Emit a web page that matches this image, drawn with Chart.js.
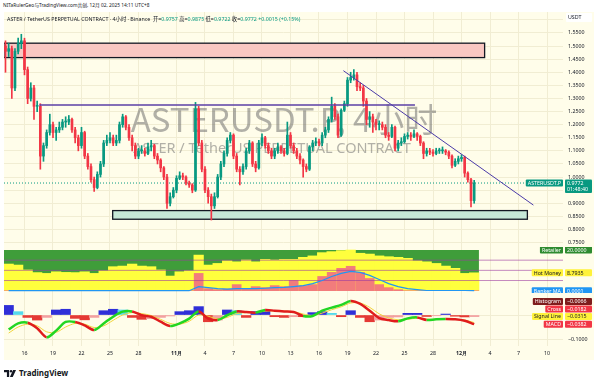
<!DOCTYPE html>
<html>
<head>
<meta charset="utf-8">
<script src="https://cdn.jsdelivr.net/npm/chart.js@4.4.0/dist/chart.umd.min.js"></script>
<style>
  body { margin: 0; width: 600px; height: 384px; background: #fff; position: relative; overflow: hidden;
         font-family: "Noto Sans", "Noto Sans CJK SC", sans-serif; color: #131722; }
  #stamp { position: absolute; left: 3px; top: 1px; font-size: 4.8px; white-space: nowrap; }
  #paper { position: absolute; left: 4px; top: 12px; width: 590px; height: 348px; background: #fffdea; }
  #legend { position: absolute; left: 7px; top: 15px; font-size: 5.3px; white-space: nowrap; }
  #legend b { font-weight: normal; color: #089981; }
  canvas { position: absolute; left: 4px; }
  #logo { position: absolute; left: 4px; top: 367px; font: bold 8px "Noto Sans", sans-serif; white-space: nowrap; }
  #logo svg { vertical-align: -1px; margin-right: 3px; }
</style>
</head>
<body>
<div id="stamp">NITaRulerGeo与TradingView.com共创, 12月 02, 2025 14:11 UTC+8</div>
<div id="paper"></div>
<canvas id="price" width="588" height="235" style="top:12px"></canvas>
<canvas id="flow" width="588" height="46" style="top:247px"></canvas>
<canvas id="macd" width="588" height="67" style="top:293px"></canvas>
<div id="legend">ASTER / TetherUS PERPETUAL CONTRACT · 4小时 · Binance &nbsp;开=<b>0.9757</b> 高=<b>0.9875</b> 低=<b>0.9722</b> 收=<b>0.9772</b> <b>+0.0015 (+0.15%)</b></div>
<div id="logo"><svg width="12" height="7" viewBox="0 0 14 8"><path d="M0 0h6v8H3.4V2.6H0z" fill="#131722"/><circle cx="8.2" cy="1.4" r="1.4" fill="#131722"/><path d="M10.6 0H14L10.2 8H6.9z" fill="#131722"/></svg>TradingView</div>

<script>
// ---------- data (8h candles from Oct 14 00:00) ----------
const OPEN = [1.50,1.48,1.49,1.34,1.48,1.51,1.52,1.41,1.30,1.34,
  1.27,1.27,1.08,1.12,1.17,1.20,1.17,1.18,1.19,1.21,
  1.21,1.22,1.18,1.15,1.12,1.17,1.08,1.04,0.99,0.96,
  1.01,1.05,1.13,1.14,1.15,1.13,1.14,1.20,1.23,1.19,
  1.15,1.12,1.08,1.10,1.10,1.09,1.115,1.12,1.08,1.065,
  1.035,1.00,0.90,0.925,0.95,0.995,1.005,1.00,0.977,0.97,
  0.95,1.26,1.13,1.03,0.95,0.925,0.89,0.925,1.00,1.05,
  1.09,1.14,1.16,1.08,1.03,1.02,1.04,1.10,1.13,1.05,
  1.035,1.13,1.15,1.12,1.10,1.08,1.10,1.115,1.10,1.09,
  1.16,1.12,1.10,1.08,1.065,1.04,1.03,1.115,1.13,1.135,
  1.13,1.16,1.18,1.22,1.27,1.23,1.16,1.255,1.28,1.37,
  1.38,1.39,1.345,1.34,1.29,1.22,1.23,1.21,1.20,1.20,
  1.19,1.16,1.155,1.19,1.11,1.13,1.135,1.155,1.16,1.155,
  1.165,1.155,1.13,1.09,1.10,1.095,1.09,1.10,1.10,1.10,
  1.095,1.08,1.045,1.06,1.07,1.075,1.015,0.99,0.91];
const CLOSE = [1.48,1.49,1.34,1.48,1.51,1.52,1.41,1.30,1.34,1.27,
  1.27,1.08,1.12,1.17,1.20,1.17,1.18,1.19,1.21,1.21,
  1.22,1.18,1.15,1.12,1.17,1.08,1.04,0.99,0.96,1.01,
  1.05,1.13,1.14,1.15,1.13,1.14,1.20,1.23,1.19,1.15,
  1.12,1.08,1.10,1.10,1.09,1.115,1.12,1.08,1.065,1.035,
  1.00,0.90,0.925,0.95,0.995,1.005,1.00,0.977,0.97,0.95,
  1.26,1.13,1.03,0.95,0.925,0.89,0.925,1.00,1.05,1.09,
  1.14,1.16,1.08,1.03,1.02,1.04,1.10,1.13,1.05,1.035,
  1.13,1.15,1.12,1.10,1.08,1.10,1.115,1.10,1.09,1.16,
  1.12,1.10,1.08,1.065,1.04,1.03,1.115,1.13,1.135,1.13,
  1.16,1.18,1.22,1.27,1.23,1.16,1.255,1.28,1.37,1.38,
  1.39,1.345,1.34,1.29,1.22,1.23,1.21,1.20,1.20,1.19,
  1.16,1.155,1.19,1.11,1.13,1.135,1.155,1.16,1.155,1.165,
  1.155,1.13,1.09,1.10,1.095,1.09,1.10,1.10,1.10,1.095,
  1.08,1.045,1.06,1.07,1.075,1.015,0.99,0.91,0.9772];
const HIGH = [1.52,1.51,1.50,1.49,1.53,1.545,1.53,1.42,1.36,1.35,
  1.29,1.28,1.13,1.18,1.24,1.21,1.19,1.21,1.22,1.23,
  1.235,1.225,1.19,1.16,1.19,1.175,1.09,1.05,1.00,1.02,
  1.06,1.14,1.16,1.17,1.16,1.16,1.21,1.24,1.235,1.20,
  1.16,1.13,1.11,1.12,1.11,1.13,1.14,1.125,1.09,1.07,
  1.04,1.01,0.94,0.96,1.005,1.02,1.015,1.005,0.985,0.975,
  1.285,1.27,1.14,1.04,0.96,0.935,0.94,1.01,1.06,1.10,
  1.15,1.17,1.165,1.09,1.04,1.05,1.11,1.14,1.135,1.06,
  1.14,1.165,1.155,1.13,1.11,1.11,1.13,1.12,1.11,1.21,
  1.17,1.13,1.11,1.09,1.07,1.05,1.12,1.14,1.15,1.145,
  1.17,1.19,1.23,1.305,1.28,1.24,1.26,1.29,1.38,1.40,
  1.41,1.40,1.36,1.35,1.30,1.25,1.24,1.22,1.215,1.21,
  1.20,1.17,1.20,1.195,1.14,1.15,1.165,1.17,1.17,1.18,
  1.17,1.16,1.135,1.11,1.11,1.105,1.11,1.11,1.115,1.105,
  1.10,1.085,1.07,1.08,1.085,1.08,1.02,0.995,0.9875];
const LOW = [1.40,1.46,1.30,1.33,1.47,1.49,1.39,1.28,1.29,1.22,
  1.25,1.03,1.06,1.11,1.16,1.15,1.14,1.17,1.18,1.19,
  1.20,1.17,1.13,1.10,1.11,1.07,1.03,0.98,0.945,0.955,
  1.00,1.04,1.12,1.13,1.12,1.12,1.13,1.19,1.18,1.14,
  1.10,1.07,1.07,1.09,1.08,1.085,1.10,1.07,1.05,1.02,
  0.99,0.88,0.89,0.92,0.94,0.99,0.99,0.97,0.96,0.94,
  0.945,1.12,1.02,0.94,0.90,0.836,0.88,0.92,0.99,1.04,
  1.08,1.13,1.07,1.02,0.97,1.01,1.03,1.09,1.04,1.02,
  1.03,1.12,1.11,1.09,1.07,1.07,1.09,1.09,1.08,1.085,
  1.11,1.09,1.07,1.05,1.00,1.02,1.025,1.10,1.12,1.12,
  1.12,1.15,1.17,1.21,1.22,1.15,1.155,1.25,1.27,1.36,
  1.37,1.33,1.33,1.27,1.20,1.19,1.17,1.18,1.18,1.18,
  1.15,1.14,1.15,1.10,1.10,1.12,1.13,1.145,1.14,1.15,
  1.14,1.12,1.07,1.08,1.085,1.08,1.085,1.09,1.09,1.085,
  1.07,1.035,1.04,1.05,1.06,1.00,0.98,0.886,0.90];

// one value per day (Oct 14 .. Dec 2)
const HOT_MONEY = [13.1,12.6,10.2,8.9,8.5,9.3,9.0,8.9,9.3,8.5,
  9.8,11.8,12.1,13.1,12.1,11.8,10.2,7.2,9.3,9.8,
  17.5,12.6,13.4,14.7,14.2,15.1,14.2,15.4,15.1,15.4,
  15.4,16.4,17.1,18.7,19.2,19.7,20,18.4,18.0,17.1,
  16.7,16.4,15.9,14.7,14.2,13.4,12.1,11.0,8.5,8.7935];
const BANKER = [0,0,0,0,0,0,0,0,0,0,
  0,0,0,0,0,0,0,0,0,0,
  8.5,1,0.5,0.8,3,0.8,2,1.5,2.5,2,
  5,2.5,3,7,9,11,12,9,6,3,
  1.5,0.5,0,0,0,0,0,0,0,0];
const BANKER_MA = [0,0,0,0,0,0,0,0,0,0,
  0,0,0,0,0,0,0,0,0,0,
  2,1.5,1,0.8,1,1,1,1.2,1.5,1.6,
  2,2.5,3.5,5,7,8.5,9.5,9,7.5,5.5,
  3.5,2,1,0.5,0.1,0.1,0.1,0.1,0.1,0.0001];
const RETAILER = 20;
const FLOW_LEVELS = [15, 10, 5];

const MACD = [-0.060,-0.035,-0.032,-0.055,-0.093,-0.065,-0.029,-0.029,-0.043,-0.0625,
  -0.035,-0.007,0.014,0.015,-0.001,-0.007,-0.028,-0.046,-0.035,-0.015,
  0.015,-0.015,-0.021,-0.001,0.015,0.0125,0.01,0.021,0.018,0.015,
  0.0125,-0.004,-0.004,0.018,0.031,0.042,0.058,0.046,0.018,-0.0125,
  -0.021,-0.026,-0.014,-0.01,-0.021,-0.018,-0.017,-0.018,-0.024,-0.0382];
const SIGNAL = [-0.075,-0.05,-0.038,-0.045,-0.07,-0.072,-0.05,-0.035,-0.038,-0.052,
  -0.045,-0.022,0.0,0.01,0.006,-0.002,-0.018,-0.035,-0.038,-0.026,
  0.0,-0.005,-0.016,-0.01,0.006,0.01,0.01,0.016,0.017,0.016,
  0.014,0.004,-0.002,0.008,0.022,0.034,0.05,0.05,0.032,0.005,
  -0.012,-0.02,-0.018,-0.013,-0.017,-0.018,-0.017,-0.018,-0.021,-0.0315];
const HIST = [0.04,0.014,-0.01,-0.021,-0.01,0.021,0.024,-0.014,-0.02,-0.01,
  0.018,0.024,0.021,-0.01,-0.018,-0.015,-0.01,-0.004,0.014,0.018,
  0.035,-0.028,-0.021,0.021,0.018,-0.01,0.014,0.018,-0.007,-0.01,
  -0.007,-0.007,0.01,0.014,0.007,-0.007,0.018,-0.01,-0.028,-0.021,
  -0.01,-0.008,0.007,0.007,-0.006,-0.003,0.004,-0.005,-0.008,-0.0066];
const CROSS_LAST = -0.0182;

// axes: x in 8h-candle units from Oct 14 00:00
const TIME_TICKS = [6,15,24,33,42,54,63,72,81,90,99,108,117,126,135,144,153,162,171];
const TIME_LABELS = ['16','19','22','25','28','11月','4','7','10','13','16','19','22','25','28','12月','4','7','10'];
const PRICE_TICKS = [0.75,0.80,0.85,0.90,0.95,1.00,1.05,1.10,1.15,1.20,1.25,1.30,1.35,1.40,1.45,1.50,1.55,1.60];
const MACD_TICKS = [-0.1, 0];

// drawings
const RESIST = { x0: -0.5, x1: 151.3, top: 1.511, bottom: 1.456 };
const SUPPORT = { x0: 33.85, x1: 164.8, top: 0.872, bottom: 0.839 };
const HLINE = { x0: 10.7, x1: 129.3, y: 1.275 };
const TREND = { x0: 106.7, y0: 1.406, x1: 166.7, y1: 0.893 };
const WATERMARK = 'ASTERUSDT.P, 4小时';
const SUBTITLE = 'ASTER / TetherUS PERPETUAL CONTRACT';
const LAST_PRICE = CLOSE[CLOSE.length - 1];
const COUNTDOWN = '01:48:40';

// ---------- look ----------
const X_MIN = -0.47, X_MAX = 176.05;
const FONT = '"Noto Sans", sans-serif';
const GRID = '#f1edd3';
const UP = '#089981', DOWN = '#f23645';

function timeScale(labels) {
  return {
    type: 'linear', min: X_MIN, max: X_MAX, offset: false,
    grid: { color: GRID, drawTicks: false, offset: false },
    border: { display: false },
    ticks: {
      display: labels, padding: 4, color: '#131722', maxRotation: 0, autoSkip: false,
      font: c => ({ size: 5.3, family: FONT,
        weight: (TIME_LABELS[TIME_TICKS.indexOf(c.tick && c.tick.value)] || '').includes('月') ? 'bold' : 'normal' }),
      callback: v => TIME_LABELS[TIME_TICKS.indexOf(v)] ?? ''
    },
    afterBuildTicks: s => { s.ticks = TIME_TICKS.map(v => ({ value: v })); },
    afterFit: s => { s.height = labels ? 14 : 0; s.paddingLeft = 0; s.paddingRight = 0; }
  };
}

function sideScale(min, max, ticks, fmt, grid) {
  return {
    position: 'right', min, max,
    grid: { display: grid, color: GRID, drawTicks: false },
    border: { display: false },
    ticks: { display: !!ticks, color: '#131722', padding: 5, font: { size: 5.3, family: FONT }, callback: fmt },
    afterBuildTicks: s => { if (ticks) s.ticks = ticks.map(v => ({ value: v })); },
    afterFit: s => { s.width = 29; s.paddingTop = 0; s.paddingBottom = 0; }
  };
}

const fmt4 = v => (v < 0 ? '−' : '') + Math.abs(v).toFixed(4);

function tag(ctx, x, y, w, h, bg, fg, text) {
  ctx.fillStyle = bg;
  ctx.beginPath();
  ctx.roundRect(x, y, w, h, 1);
  ctx.fill();
  ctx.fillStyle = fg;
  ctx.font = '5.3px ' + FONT;
  ctx.textAlign = 'left';
  ctx.textBaseline = 'middle';
  ctx.fillText(text, x + 2, y + h / 2 + 0.3);
}

// name box ending at chart right, value box on the axis
function pair(chart, yc, name, value, bg, fg) {
  const { ctx, chartArea: a } = chart;
  ctx.font = '5.3px ' + FONT;
  const w = ctx.measureText(name).width + 4;
  tag(ctx, a.right - w, yc - 3.5, w, 7, bg, fg, name);
  tag(ctx, a.right + 2, yc - 3.5, 27, 7, bg, fg, value);
}

const commonOpts = {
  animation: false, responsive: false, maintainAspectRatio: false,
  layout: { padding: 0 },
  plugins: { legend: { display: false }, tooltip: { enabled: false } }
};

// ---------- price pane ----------
const priceOverlay = {
  id: 'priceOverlay',
  beforeDatasetsDraw(chart) {
    const { ctx, chartArea: a, scales: { x, y } } = chart;
    ctx.save();
    ctx.beginPath(); ctx.rect(a.left - 1, a.top, a.width + 1, a.height); ctx.clip();
    ctx.fillStyle = 'rgba(105,105,105,0.52)';
    ctx.textAlign = 'center'; ctx.textBaseline = 'alphabetic';
    ctx.font = '33px "Noto Sans CJK SC", sans-serif';
    ctx.fillText(WATERMARK, 280, 120);
    ctx.font = '14.5px ' + FONT;
    ctx.fillText(SUBTITLE, 268, 140.5);
    [[RESIST, '#f9c7c2'], [SUPPORT, '#c6e8d7']].forEach(([z, col]) => {
      const x0 = x.getPixelForValue(z.x0), x1 = x.getPixelForValue(z.x1);
      const y0 = y.getPixelForValue(z.top), y1 = y.getPixelForValue(z.bottom);
      ctx.fillStyle = col; ctx.fillRect(x0, y0, x1 - x0, y1 - y0);
      ctx.strokeStyle = '#131722'; ctx.lineWidth = 1.3; ctx.strokeRect(x0, y0, x1 - x0, y1 - y0);
    });
    const py = y.getPixelForValue(LAST_PRICE);
    ctx.setLineDash([1, 2]); ctx.strokeStyle = UP; ctx.lineWidth = 1;
    ctx.beginPath(); ctx.moveTo(a.left, py); ctx.lineTo(a.right, py); ctx.stroke();
    ctx.restore();
  },
  afterDatasetsDraw(chart) {
    const { ctx, chartArea: a, scales: { x, y } } = chart;
    ctx.save();
    ctx.beginPath(); ctx.rect(a.left, a.top, a.width, a.height); ctx.clip();
    ctx.strokeStyle = '#5b3fa6'; ctx.lineWidth = 1.4;
    ctx.beginPath();
    ctx.moveTo(x.getPixelForValue(HLINE.x0), y.getPixelForValue(HLINE.y));
    ctx.lineTo(x.getPixelForValue(HLINE.x1), y.getPixelForValue(HLINE.y));
    ctx.stroke();
    ctx.strokeStyle = '#4b3ba8'; ctx.lineWidth = 1;
    ctx.beginPath();
    ctx.moveTo(x.getPixelForValue(TREND.x0), y.getPixelForValue(TREND.y0));
    ctx.lineTo(x.getPixelForValue(TREND.x1), y.getPixelForValue(TREND.y1));
    ctx.stroke();
    ctx.restore();
  },
  afterDraw(chart) {
    const { ctx, chartArea: a, scales: { y } } = chart;
    ctx.save();
    tag(ctx, a.right + 3, 1, 26, 9, '#ffffff', '#131722', 'USDT');
    const py = y.getPixelForValue(LAST_PRICE);
    ctx.font = '5.3px ' + FONT;
    const w = ctx.measureText('ASTERUSDT.P').width + 4;
    tag(ctx, a.right - w, py - 3.5, w, 7, UP, '#fff', 'ASTERUSDT.P');
    ctx.fillStyle = UP;
    ctx.beginPath(); ctx.roundRect(a.right + 2, py - 3.5, 27, 13.5, 1); ctx.fill();
    ctx.fillStyle = '#fff'; ctx.textBaseline = 'middle';
    ctx.fillText(LAST_PRICE.toFixed(4), a.right + 4, py + 0.3);
    ctx.fillText(COUNTDOWN, a.right + 4, py + 6.6);
    ctx.restore();
  }
};

const idx = OPEN.map((_, i) => i);
const candleColor = i => CLOSE[i] >= OPEN[i] ? UP : DOWN;

new Chart(document.getElementById('price'), {
  type: 'bar',
  data: {
    datasets: [
      { data: idx.map(i => ({ x: i, y: [LOW[i], HIGH[i]] })), backgroundColor: idx.map(candleColor),
        barThickness: 1, grouped: false, order: 2 },
      { data: idx.map(i => ({ x: i, y: [OPEN[i], CLOSE[i]] })), backgroundColor: idx.map(candleColor),
        barThickness: 2, minBarLength: 1, grouped: false, order: 1 }
    ]
  },
  options: { ...commonOpts,
    scales: { x: timeScale(false), y: sideScale(0.733, 1.630, PRICE_TICKS, v => v.toFixed(4), true) } },
  plugins: [priceOverlay]
});

// ---------- money flow pane ----------
const dayX = HOT_MONEY.map((_, d) => 3 * d + 1);
const lastDay = dayX.length - 1;

const flowOverlay = {
  id: 'flowOverlay',
  afterDraw(chart) {
    const { ctx, scales: { y } } = chart;
    ctx.save();
    pair(chart, y.getPixelForValue(RETAILER), 'Retailer', RETAILER.toFixed(4), '#2e8b30', '#fff');
    pair(chart, y.getPixelForValue(HOT_MONEY[lastDay]), 'Hot Money', HOT_MONEY[lastDay].toFixed(4), '#fff23a', '#131722');
    pair(chart, y.getPixelForValue(BANKER_MA[lastDay]), 'Banker MA', BANKER_MA[lastDay].toFixed(4), '#2196f3', '#fff');
    ctx.restore();
  }
};

new Chart(document.getElementById('flow'), {
  type: 'bar',
  data: {
    datasets: [
      { type: 'line', data: [{ x: -0.5, y: RETAILER }, { x: 3 * lastDay + 2.5, y: RETAILER }],
        fill: 'origin', backgroundColor: '#3f9d3a', borderWidth: 0, pointRadius: 0, order: 6 },
      { data: dayX.map((x, d) => ({ x, y: HOT_MONEY[d] })), backgroundColor: '#ffff3d',
        barThickness: 9.6, grouped: false, order: 5 },
      { data: dayX.map((x, d) => ({ x, y: BANKER[d] })), backgroundColor: '#f27c7c',
        barThickness: 9, grouped: false, order: 4 },
      ...FLOW_LEVELS.map(v => ({ type: 'line', data: [{ x: X_MIN, y: v }, { x: X_MAX, y: v }],
        borderColor: 'rgba(156,60,160,0.6)', borderWidth: 1, pointRadius: 0, order: 3 })),
      { type: 'line', data: dayX.map((x, d) => ({ x, y: BANKER_MA[d] })), borderColor: '#2196f3',
        borderWidth: 1.2, pointRadius: 0, order: 1 }
    ]
  },
  options: { ...commonOpts,
    scales: { x: timeScale(false), y: sideScale(-1.13, 21.47, null, null, false) } },
  plugins: [flowOverlay]
});

// ---------- MACD pane ----------
const histColor = HIST.map((v, d) => {
  const prev = d > 0 ? HIST[d - 1] : 0;
  if (v >= 0) return v >= prev ? '#2f2fd8' : '#55d9ec';
  return v <= prev ? '#e53935' : '#f3a0a0';
});

const macdOverlay = {
  id: 'macdOverlay',
  afterDraw(chart) {
    const { ctx, scales: { y } } = chart;
    ctx.save();
    const ym = y.getPixelForValue(MACD[lastDay]);
    pair(chart, ym, 'MACD', fmt4(MACD[lastDay]), '#f23645', '#fff');
    pair(chart, ym - 7.6, 'Signal Line', fmt4(SIGNAL[lastDay]), '#fff23a', '#131722');
    pair(chart, ym - 15.2, 'Cross', fmt4(CROSS_LAST), '#f23645', '#fff');
    pair(chart, ym - 22.8, 'Histogram', fmt4(HIST[lastDay]), '#7f1d1d', '#fff');
    ctx.restore();
  }
};

new Chart(document.getElementById('macd'), {
  type: 'bar',
  data: {
    datasets: [
      { data: dayX.map((x, d) => ({ x, y: HIST[d] })), backgroundColor: histColor,
        barThickness: 9.6, grouped: false, order: 3 },
      { type: 'line', data: dayX.map((x, d) => ({ x, y: SIGNAL[d] })), borderColor: '#f2d43c',
        borderWidth: 1, pointRadius: 0, tension: 0.3, order: 2 },
      { type: 'line', data: dayX.map((x, d) => ({ x, y: MACD[d] })), borderWidth: 2.5, pointRadius: 0,
        tension: 0.3, order: 1,
        segment: { borderColor: c => c.p1.parsed.y >= c.p0.parsed.y ? '#22d622' : '#e01c1c' } }
    ]
  },
  options: { ...commonOpts,
    scales: { x: timeScale(true), y: sideScale(-0.129, 0.0917, MACD_TICKS, fmt4, true) } },
  plugins: [macdOverlay]
});
</script>
</body>
</html>
